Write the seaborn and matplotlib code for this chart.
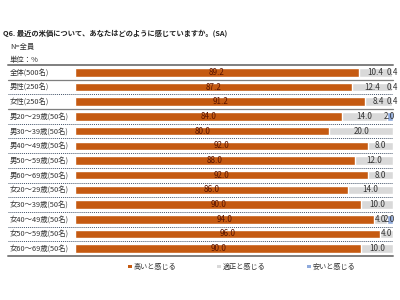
import numpy as np
import pandas as pd
import matplotlib
matplotlib.use("Agg")
import matplotlib.pyplot as plt
import matplotlib.transforms as mtrans
from matplotlib.lines import Line2D
from matplotlib.patches import Rectangle
import seaborn as sns

categories = ["全体(500名)", "男性(250名)", "女性(250名)",
              "男20～29歳(50名)", "男30～39歳(50名)", "男40～49歳(50名)",
              "男50～59歳(50名)", "男60～69歳(50名)",
              "女20～29歳(50名)", "女30～39歳(50名)", "女40～49歳(50名)",
              "女50～59歳(50名)", "女60～69歳(50名)"]
high = [89.2, 87.2, 91.2, 84.0, 80.0, 92.0, 88.0, 92.0, 86.0, 90.0, 94.0, 96.0, 90.0]
fair = [10.4, 12.4, 8.4, 14.0, 20.0, 8.0, 12.0, 8.0, 14.0, 10.0, 4.0, 4.0, 10.0]
cheap = [0.4, 0.4, 0.4, 2.0, 0.0, 0.0, 0.0, 0.0, 0.0, 0.0, 2.0, 0.0, 0.0]
series_names = ["高いと感じる", "適正と感じる", "安いと感じる"]
colors = ["#C55A11", "#D9D9D9", "#8FAADC"]

sns.set_theme(style="white")
plt.rcParams['font.family'] = ['Noto Sans CJK JP', 'DejaVu Sans']

df = pd.DataFrame({"cat": categories, "high": high, "fair": fair, "cheap": cheap})
df["c1"] = df["high"]
df["c2"] = df["high"] + df["fair"]
df["c3"] = df["c2"] + df["cheap"]

W, H = 400, 300
fig = plt.figure(figsize=(4, 3), dpi=100)
fig.patch.set_facecolor("white")
left, right, top, bottom = 75, 393, 65, 256
ax = fig.add_axes([left / W, 1 - bottom / H, (right - left) / W, (bottom - top) / H])

sns.barplot(data=df, x="c3", y="cat", color=colors[2], orient="h", ax=ax, width=0.58, saturation=1)
sns.barplot(data=df, x="c2", y="cat", color=colors[1], orient="h", ax=ax, width=0.58, saturation=1)
sns.barplot(data=df, x="c1", y="cat", color=colors[0], orient="h", ax=ax, width=0.58, saturation=1)

ax.set_xlim(0, 100)
ax.set_ylim(len(categories) - 0.5, -0.5)
ax.set_xlabel("")
ax.set_ylabel("")
ax.set_xticks([])
ax.set_yticks([])
for s in ax.spines.values():
    s.set_visible(False)

fs = 5.3
vfs = 5.8
# value labels
for i in range(len(categories)):
    h, f, c = high[i], fair[i], cheap[i]
    ax.text(h / 2, i, f"{h:.1f}", ha="center", va="center", fontsize=vfs, color="#5A1400")
    if f > 0:
        ax.text(h + f / 2, i, f"{f:.1f}", ha="center", va="center", fontsize=vfs, color="#333333")
    if c > 0:
        ax.text(h + f + c / 2, i, f"{c:.1f}", ha="center", va="center", fontsize=vfs, color="#333333")

# row labels
tr = mtrans.blended_transform_factory(fig.transFigure, ax.transData)
for i, cat in enumerate(categories):
    ax.text(10 / W, i, cat, transform=tr, ha="left", va="center", fontsize=fs, color="#333333")

# separators
x0, x1 = 8 / W, right / W
for i in range(len(categories) - 1):
    y = i + 0.5
    if i in (0, 2):
        ax.add_line(Line2D([x0, x1], [y, y], transform=tr, color="#7F7F7F", lw=0.9, clip_on=False))
    else:
        ax.add_line(Line2D([x0, x1], [y, y], transform=tr, color="#44546A", lw=0.7,
                           linestyle=(0, (1, 1)), clip_on=False))
ax.add_line(Line2D([x0, x1], [-0.5, -0.5], transform=tr, color="#7F7F7F", lw=1.4, clip_on=False))
ax.add_line(Line2D([x0, x1], [len(categories) - 0.5] * 2, transform=tr, color="#7F7F7F", lw=1.4, clip_on=False))

# titles
fig.text(3 / W, 1 - 33 / H, "Q6. 最近の米価について、あなたはどのように感じていますか。(SA)",
         ha="left", va="center", fontsize=5.25, fontweight="bold", color="#222222")
fig.text(10 / W, 1 - 47 / H, "N=全員", ha="left", va="center", fontsize=fs, color="#333333")
fig.text(10 / W, 1 - 60 / H, "単位：%", ha="left", va="center", fontsize=fs, color="#333333")

# legend
leg_x = [128, 217, 307]
for xx, name, col in zip(leg_x, series_names, colors):
    fig.patches.append(Rectangle((xx / W, 1 - 268 / H), 3.5 / W, 3.5 / H, transform=fig.transFigure,
                                 facecolor=col, edgecolor="none"))
    fig.text((xx + 6) / W, 1 - 266.5 / H, name, ha="left", va="center", fontsize=fs - 0.2, color="#333333")

fig.savefig("out.png", dpi=100, facecolor="white")
